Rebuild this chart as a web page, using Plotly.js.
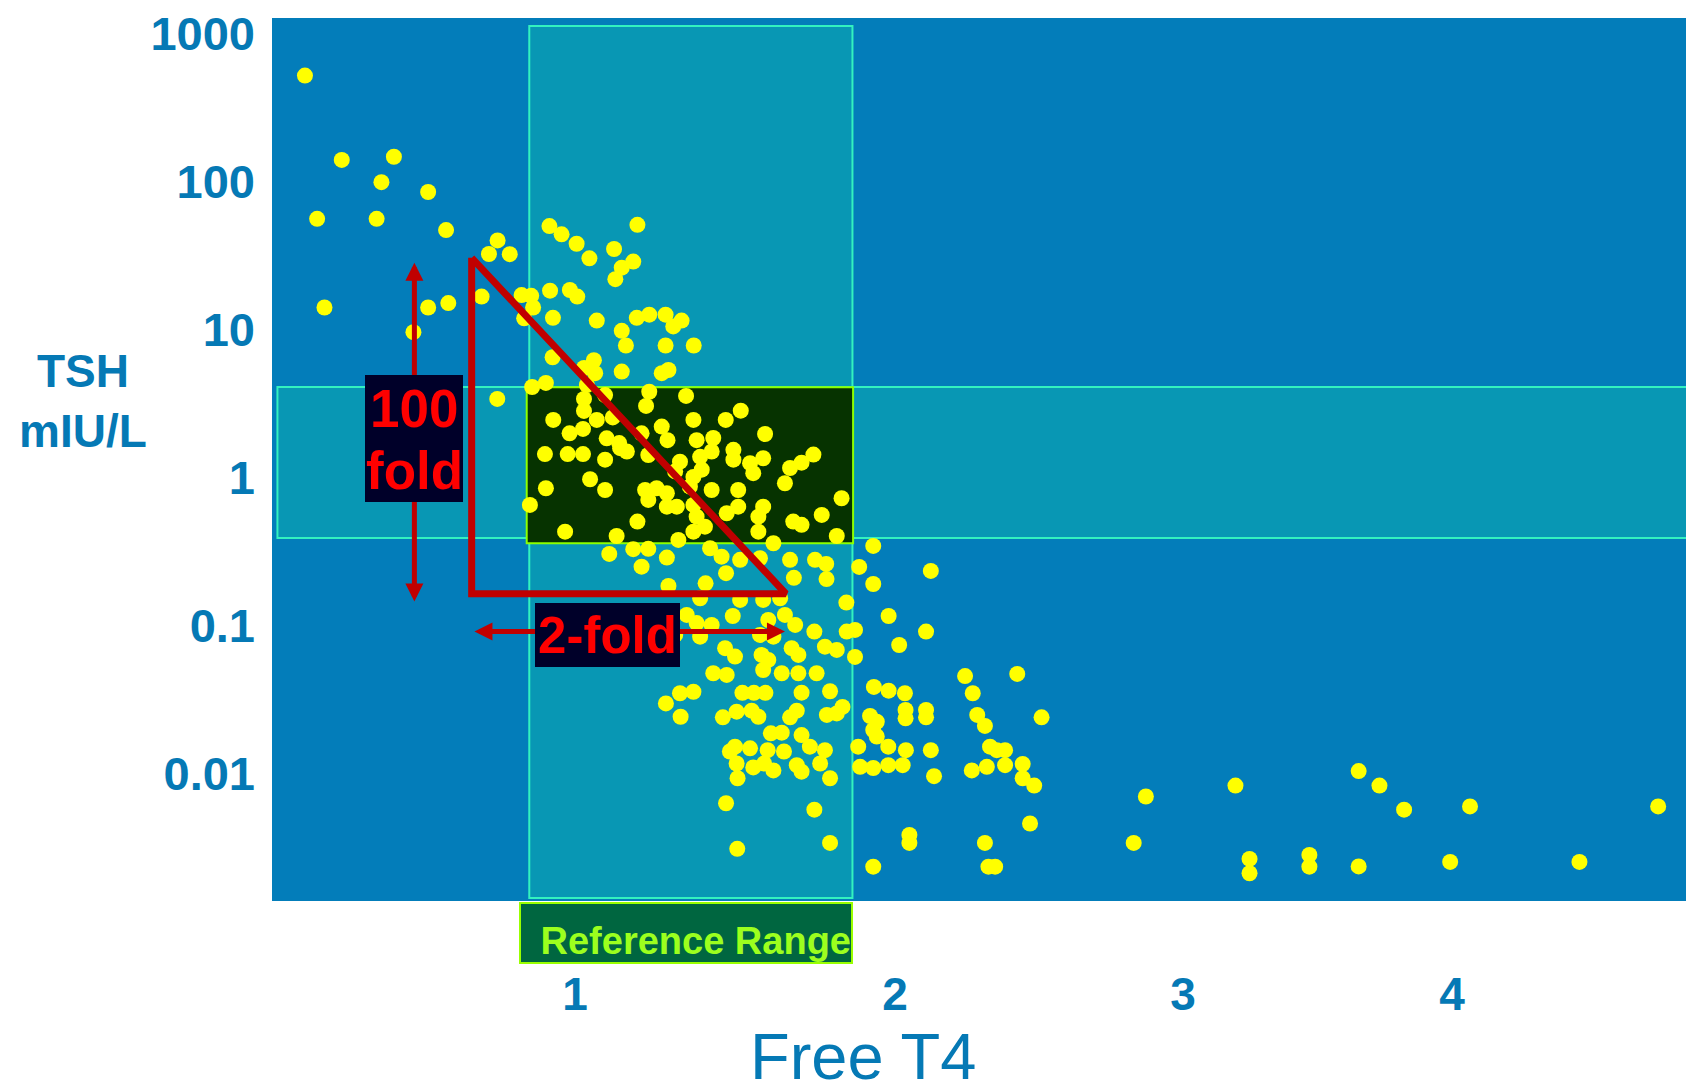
<!DOCTYPE html>
<html><head><meta charset="utf-8">
<script src="https://cdn.plot.ly/plotly-3.0.1.min.js"></script>
<style>html,body{margin:0;padding:0;background:#fff;}#chart{width:1686px;height:1087px;}</style>
</head><body><div id="chart"></div>
<script>
// ---- data ----
const freeT4 = [
0.156,0.271,0.434,0.395,0.541,0.194,0.380,0.597,0.758,0.731,0.796,0.217,0.541,0.604,0.495,0.708,0.757,
0.833,0.863,0.869,0.841,0.920,0.958,1.005,1.045,1.195,1.122,1.182,1.146,1.126,0.922,0.984,1.007,0.931,
1.068,1.193,1.232,1.283,1.307,1.333,1.146,1.159,1.283,1.371,0.930,1.059,1.028,1.063,1.146,1.271,1.292,
0.866,0.909,1.037,1.232,1.347,1.222,1.028,1.094,0.932,1.028,1.068,1.118,1.370,1.471,1.518,0.983,1.025,
1.099,1.138,1.208,1.271,1.289,1.380,1.432,1.594,0.906,0.977,1.025,1.094,1.141,1.162,1.229,1.328,1.391,
1.427,1.495,1.495,1.547,1.588,1.745,1.708,1.672,1.557,1.313,1.370,1.396,1.047,0.909,1.094,1.219,1.229,
1.255,1.287,1.287,1.318,1.359,1.427,1.510,1.656,0.859,1.370,1.380,1.474,1.510,1.588,1.573,1.771,1.833,
1.682,1.708,1.195,0.969,1.130,1.370,1.406,1.573,1.620,1.818,1.323,1.422,1.458,1.516,1.107,1.182,1.229,
1.208,1.287,1.578,1.672,1.750,1.785,1.888,1.472,1.786,1.684,1.932,1.932,1.408,1.292,1.391,1.516,1.588,
1.641,1.848,1.980,1.349,1.380,1.427,1.493,1.604,1.656,1.688,1.748,1.849,1.875,1.578,1.620,1.313,1.391,
2.013,1.469,1.500,1.583,1.604,1.677,1.698,1.781,1.818,1.875,1.588,1.646,1.698,1.755,1.432,1.474,1.328,
1.370,1.284,1.523,1.559,1.595,1.708,1.797,1.934,1.980,1.836,1.922,1.330,1.462,1.505,1.552,1.573,1.672,
1.693,1.787,1.818,1.612,1.646,1.708,1.500,1.547,1.602,1.653,1.734,1.781,1.484,1.505,1.557,1.591,1.620,
1.693,1.708,1.766,1.797,1.508,1.472,1.748,1.507,1.797,2.112,2.097,2.219,2.382,2.243,2.031,2.033,2.033,
2.097,2.097,2.257,2.281,2.458,1.943,1.932,1.943,1.885,1.979,2.034,2.112,2.297,2.318,2.344,1.891,1.932,
1.979,2.024,2.122,2.240,2.287,2.344,2.399,2.399,2.435,2.422,2.045,2.045,2.281,1.932,2.292,2.313,2.784,
2.746,3.064,3.108,3.108,3.295,3.295,3.449,3.514,3.591,3.449,3.797,3.735,4.139,4.385];
const tsh = [
520,140,147,99,85,56,56,47,40,32.4,32.3,14.1,14.1,15.1,9.6,16.7,3.4,
17.1,16.9,14.1,11.9,50,44,38,30.3,51,35,28.8,26.2,21.9,18.3,18.5,16.7,12.0,
11.5,12.0,12.6,12.6,10.5,11.5,9.8,7.8,7.8,7.8,6.5,6.2,5.5,5.07,5.2,5.07,5.33,
4.09,4.36,4.22,3.8,3.56,3.05,3.4,3.61,2.45,2.82,2.45,2.55,2.45,2.45,2.83,1.99,2.13,
1.84,1.71,1.99,2.21,1.79,1.79,1.85,1.97,1.44,1.44,1.44,1.32,1.58,1.50,1.42,1.28,1.38,
1.50,1.54,1.32,1.25,1.35,1.43,1.26,1.16,1.07,1.10,1.01,1.13,0.974,0.847,0.824,0.824,0.706,
0.847,0.783,0.636,0.636,0.868,0.824,0.824,0.915,0.653,0.653,0.544,0.574,0.636,0.636,0.544,0.559,0.725,
0.504,0.479,0.504,0.431,0.403,0.431,0.466,0.431,0.360,0.403,0.379,0.333,0.292,0.278,0.305,0.328,0.33,
0.250,0.288,0.285,0.278,0.278,0.261,0.249,0.226,0.206,0.210,0.345,0.191,0.193,0.185,0.153,0.149,0.149,
0.153,0.143,0.116,0.118,0.104,0.101,0.116,0.109,0.118,0.101,0.091,0.091,0.0934,0.0864,0.0841,0.0864,0.0841,
0.0739,0.0703,0.0617,0.0633,0.0586,0.0703,0.0633,0.0720,0.0685,0.0614,0.0501,0.0476,0.0476,0.0476,0.0476,0.0464,0.0349,
0.0357,0.0298,0.0351,0.0351,0.0351,0.0352,0.0360,0.0385,0.0363,0.0282,0.0245,0.0242,0.0240,0.0262,0.0266,0.0242,0.0240,
0.0266,0.0249,0.0255,0.0187,0.0189,0.0182,0.0152,0.0148,0.0144,0.0141,0.0152,0.0144,0.0141,0.0117,0.0110,0.0117,0.0105,
0.0114,0.0103,0.0117,0.0093,0.0093,0.0063,0.0057,0.0031,0.0034,0.234,0.091,0.0456,0.0471,0.0349,0.0349,0.0269,0.0236,
0.0269,0.0240,0.0249,0.0210,0.0240,0.0224,0.0197,0.0178,0.0152,0.0152,0.0144,0.0144,0.0152,0.0144,0.0144,0.0111,0.0109,
0.0114,0.0114,0.0096,0.0105,0.0111,0.0114,0.0116,0.0093,0.0083,0.0046,0.00385,0.0034,0.0034,0.00235,0.00235,0.00235,0.0070,
0.0034,0.0083,0.00265,0.00212,0.00282,0.00235,0.0104,0.0083,0.0057,0.00236,0.0060,0.00253,0.00253,0.0060];

const xTickVals = [1, 2, 2.9, 3.741];
const xTickText = ['1', '2', '3', '4'];
const yTickVals = [0.01, 0.1, 1, 10, 100, 1000];
const yTickText = ['0.01', '0.1', '1', '10', '100', '1000'];

// reference ranges
const refFT4 = [0.857, 1.867];
const refTSH = [0.391, 4.09];
const normalFT4 = [0.849, 1.869];
const normalTSH = [0.36, 4.08];
const bandFT4Start = 0.07;

// schematic triangle and arrows
const triFT4 = [0.677, 0.677, 1.659, 0.677];
const triTSH = [30.5, 0.164, 0.164, 30.5];
const foldArrowFT4 = 0.498;
const foldArrowTSH = [28.3, 0.142];
const twoFoldArrowFT4 = [0.681, 1.656];
const twoFoldArrowTSH = 0.091;
const foldBox = {ft4: 0.498, tsh: 1.83, line1: 2.92, line2: 1.118};
const twoFoldBox = {ft4: 1.10, tsh: 0.0869};
const refLabelFT4 = 1.346;

const FONT = 'Liberation Sans, Arial, sans-serif';
const BLUE = '#0579b5';
const RED_LINE = '#c00000';
const NAVY = '#000029';
const lg = Math.log10;

const traces = [
  {type: 'scatter', mode: 'markers', x: freeT4, y: tsh, hoverinfo: 'skip',
   marker: {size: 16, color: '#ffff00', line: {width: 0}}, cliponaxis: true},
  {type: 'scatter', mode: 'lines', x: triFT4, y: triTSH, hoverinfo: 'skip',
   line: {color: RED_LINE, width: 7}}
];

const shapes = [
  {type: 'rect', layer: 'below', xref: 'x', yref: 'paper', x0: refFT4[0], x1: refFT4[1], y0: 0.0034, y1: 0.991,
   fillcolor: '#0897b4', line: {color: '#33f2bf', width: 2}},
  {type: 'rect', layer: 'below', xref: 'x', yref: 'y', x0: bandFT4Start, x1: 4.7, y0: refTSH[0], y1: refTSH[1],
   fillcolor: '#0897b4', line: {color: '#33f2bf', width: 2}},
  {type: 'rect', layer: 'below', xref: 'x', yref: 'y', x0: normalFT4[0], x1: normalFT4[1], y0: normalTSH[0], y1: normalTSH[1],
   fillcolor: '#063300', line: {color: '#8cff00', width: 2}}
];

const C = {xanchor: 'center', yanchor: 'middle'};
const annotations = [
  // 100-fold vertical double arrow
  {xref: 'x', yref: 'y', axref: 'x', ayref: 'y', x: foldArrowFT4, y: lg(foldArrowTSH[0]),
   ax: foldArrowFT4, ay: lg(foldArrowTSH[1]), text: '', showarrow: true, arrowside: 'end+start',
   arrowhead: 2, startarrowhead: 2, arrowsize: 0.72, startarrowsize: 0.72, arrowwidth: 5, arrowcolor: RED_LINE,
   standoff: 0, startstandoff: 0},
  // 2-fold horizontal double arrow
  {xref: 'x', yref: 'y', axref: 'x', ayref: 'y', x: twoFoldArrowFT4[1], y: lg(twoFoldArrowTSH),
   ax: twoFoldArrowFT4[0], ay: lg(twoFoldArrowTSH), text: '', showarrow: true, arrowside: 'end+start',
   arrowhead: 2, startarrowhead: 2, arrowsize: 0.72, startarrowsize: 0.72, arrowwidth: 5, arrowcolor: RED_LINE,
   standoff: 0, startstandoff: 0},
  // 100 fold box
  Object.assign({xref: 'x', yref: 'y', x: foldBox.ft4, y: lg(foldBox.tsh), text: '', showarrow: false,
   width: 98, height: 127, bgcolor: NAVY, borderpad: 0, borderwidth: 0}, C),
  Object.assign({xref: 'x', yref: 'y', x: foldBox.ft4, y: lg(foldBox.line1), text: '100', showarrow: false,
   font: {family: FONT, size: 53, color: '#ff0000', weight: 'bold'}}, C),
  Object.assign({xref: 'x', yref: 'y', x: foldBox.ft4, y: lg(foldBox.line2), text: 'fold', showarrow: false,
   font: {family: FONT, size: 53, color: '#ff0000', weight: 'bold'}}, C),
  // 2-fold box
  Object.assign({xref: 'x', yref: 'y', x: twoFoldBox.ft4, y: lg(twoFoldBox.tsh), text: '2-fold', showarrow: false,
   width: 145, height: 64, bgcolor: NAVY, borderpad: 0, borderwidth: 0,
   font: {family: FONT, size: 51, color: '#ff0000', weight: 'bold'}}, C),
  // Reference Range label
  Object.assign({xref: 'x', yref: 'paper', x: refLabelFT4, y: -0.0367, text: 'Reference Range', showarrow: false,
   width: 330, height: 58, bgcolor: '#006640', bordercolor: '#99ff00', borderwidth: 2, borderpad: 0,
   align: 'right', valign: 'bottom', font: {family: FONT, size: 38, color: '#9cff1e', weight: 'bold'}}, C),
  // y axis title
  Object.assign({xref: 'paper', yref: 'paper', x: -0.1337, y: 0.566, text: 'TSH<br>mIU/L', showarrow: false,
   font: {family: FONT, size: 46, color: BLUE, weight: 'bold'}}, C),
  // x axis title
  Object.assign({xref: 'paper', yref: 'paper', x: 0.418, y: -0.176, text: 'Free T4', showarrow: false,
   font: {family: FONT, size: 65, color: BLUE}}, C)
];

const layout = {
  width: 1686, height: 1087,
  margin: {l: 272, r: 0, t: 18, b: 186, pad: 0},
  paper_bgcolor: '#ffffff', plot_bgcolor: '#037dba',
  showlegend: false,
  xaxis: {range: [0.053, 4.472], showgrid: false, zeroline: false, showline: false, ticks: '',
    tickmode: 'array', tickvals: xTickVals, ticktext: xTickText, ticklabelstandoff: 62,
    tickfont: {family: FONT, size: 46, color: BLUE, weight: 'bold'}, fixedrange: true},
  yaxis: {type: 'log', range: [-2.861, 3.105], showgrid: false, zeroline: false, showline: false, ticks: '',
    tickmode: 'array', tickvals: yTickVals, ticktext: yTickText, ticklabelstandoff: 16,
    tickfont: {family: FONT, size: 47, color: BLUE, weight: 'bold'}, fixedrange: true},
  shapes: shapes,
  annotations: annotations
};

Plotly.newPlot('chart', traces, layout, {displayModeBar: false, staticPlot: true});
</script>
</body></html>
